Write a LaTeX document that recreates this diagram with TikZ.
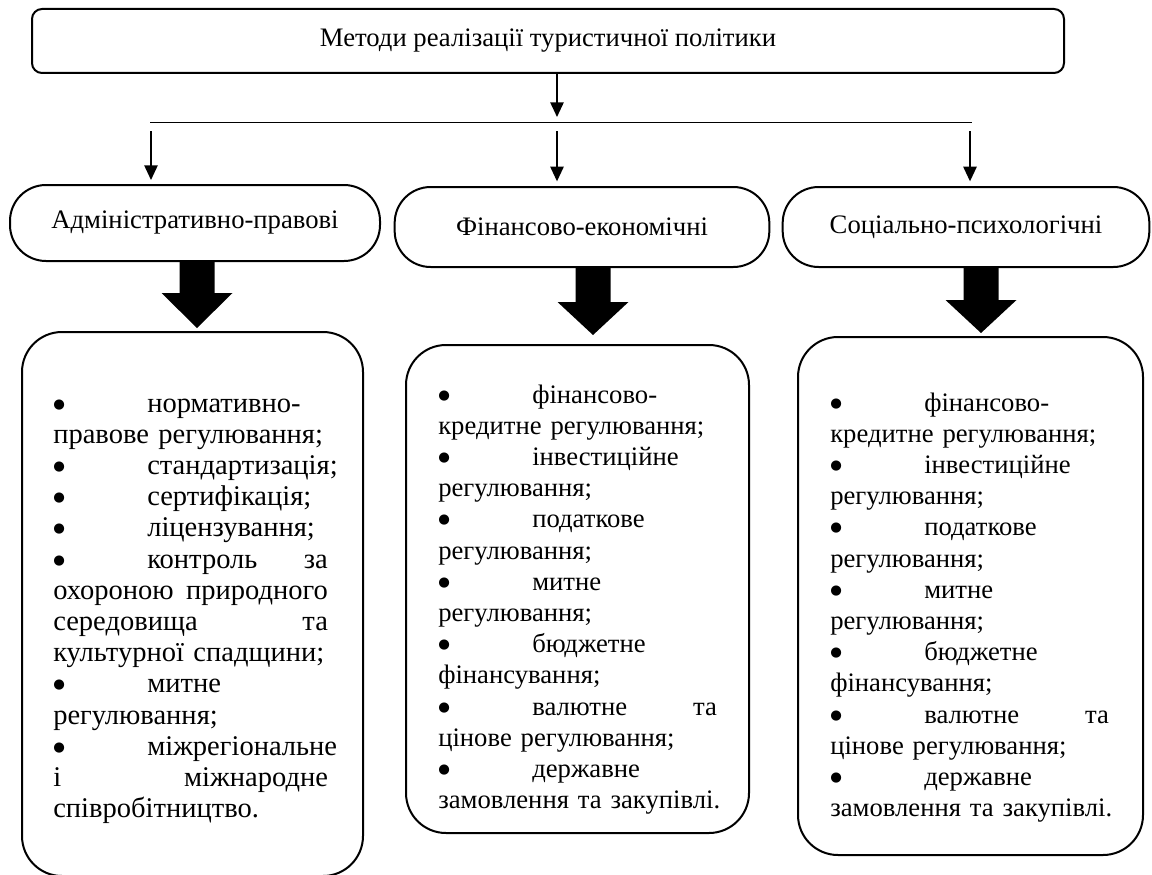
\documentclass[tikz,border=0pt]{standalone}
\usepackage{fontspec}
\setmainfont{Liberation Serif}
\newfontfamily\dotfont{DejaVu Sans}
\usetikzlibrary{arrows.meta}
\newcommand{\bul}{\makebox[70.5pt][l]{\raisebox{3pt}{\dotfont\fontsize{10}{12}\selectfont ●}}}
\newcommand{\reglist}{\bul фінансово-\\
	кредитне~регулювання;\\
	\bul інвестиційне\\
	регулювання;\\
	\bul податкове\\
	регулювання;\\
	\bul митне\\
	регулювання;\\
	\bul бюджетне\\
	фінансування;\\
	\bul валютне\hfill та\\
	цінове~регулювання;\\
	\bul державне\\
	замовлення~та~закупівлі.}
\tikzset{
  txt/.style={font=\fontsize{20}{23.4}\selectfont},
  titlebox/.style={draw, line width=1.5pt, rounded corners=7.5pt, txt},
  kindbox/.style={draw, line width=1.5pt, rounded corners=27pt, txt},
  listbox/.style={draw, line width=1.5pt, rounded corners=30pt},
  listtext/.style={anchor=base west, inner sep=0pt, text width=209pt, align=left, txt},
  arr/.style={line width=1.2pt, -{Triangle[width=10pt,length=11pt]}}
}
\begin{document}
\begin{tikzpicture}[x=0.75pt,y=-0.75pt]
			\useasboundingbox (0,0) rectangle (1152,874);
			\node	(top) at (548,41) [titlebox, minimum width=774pt, minimum height=48pt] {Методи реалізації туристичної політики};
			\coordinate (hub) at (557,122);
			\coordinate (hl) at (150,122);
			\coordinate (hr) at (972,122);
			\coordinate (d1) at (151,131);
			\coordinate (d2) at (557,131);
			\coordinate (d3) at (970,131);
			\node	(adm) at (195,223) [kindbox, minimum width=277.5pt, minimum height=57pt] {Адміністративно-правові};
			\node	(fin) at (582,227) [kindbox, minimum width=281pt, minimum height=60pt] {Фінансово-економічні};
			\node	(soc) at (966,227) [kindbox, minimum width=275pt, minimum height=60pt] {Соціально-психологічні};
			\node	(admlist) at (192.5,604) [listbox, minimum width=255.75pt, minimum height=408pt] {};
			\node	(finlist) at (577.5,589) [listbox, minimum width=257.25pt, minimum height=366pt] {};
			\node	(soclist) at (970.5,596) [listbox, minimum width=258.75pt, minimum height=388.5pt] {};
			\node	(admtext) at (53,412) [listtext, text width=206pt, font=\fontsize{21.4}{23.4}\selectfont] {\bul нормативно-\\
				правове~регулювання;\\
				\bul стандартизація;\\
				\bul сертифікація;\\
				\bul ліцензування;\\
				\bul контроль\hfill за\\
				охороною\hfill природного\\
				середовища\hfill та\\
				культурної~спадщини;\\
				\bul митне\\
				регулювання;\\
				\bul міжрегіональне\\
				і\hfill міжнародне\\
				співробітництво.};
			\node	(fintext) at (438,403) [listtext] {\reglist};
			\node	(soctext) at (830,411) [listtext] {\reglist};
			\draw 
			(top.south -| hub) edge[arr, shorten >=3.75pt] (hub)
			(d1) edge[arr, shorten >=3pt] (d1 |- adm.north)
			(d2) edge[arr, shorten >=3.5pt] (d2 |- fin.north)
			(d3) edge[arr, shorten >=3.5pt] (d3 |- soc.north)
			;
			\draw[line width=0.75pt] (hl) -- (hr);
			% block arrows
			\foreach \cx/\ty/\ny/\py in {197/260/293/328, 593/266/302/335, 981/267/300/333}
			\fill ({\cx-17.5},\ty) -- ({\cx+17.5},\ty) -- ({\cx+17.5},\ny) -- ({\cx+35.5},\ny)
				-- (\cx,\py) -- ({\cx-35.5},\ny) -- ({\cx-17.5},\ny) -- cycle;
		\end{tikzpicture}
\end{document}
